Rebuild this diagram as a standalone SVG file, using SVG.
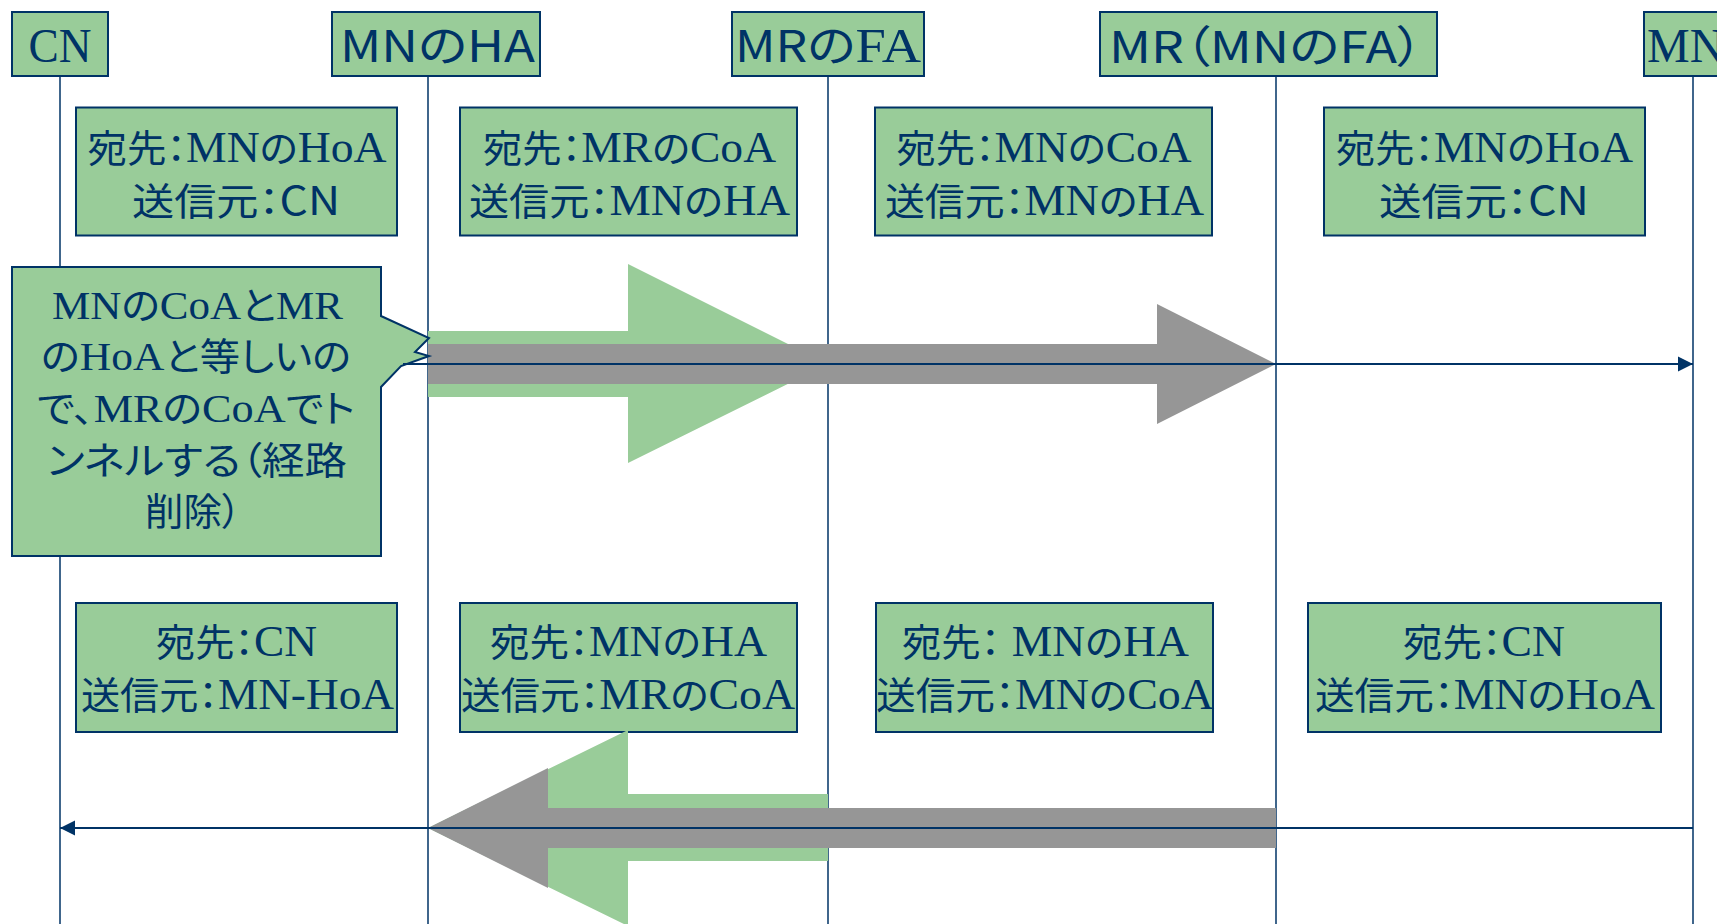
<svg xmlns="http://www.w3.org/2000/svg" width="1717" height="924" viewBox="0 0 1717 924">
<defs>
<style>
.box{fill:#99CC99;stroke:#003366;stroke-width:2}
.life{stroke:#003366;stroke-width:1.5;fill:none}
.msg{stroke:#003366;stroke-width:2;fill:none;marker-end:url(#ah)}
.ga{fill:#99CC99}
.gy{fill:#969696}
text{fill:#003366;text-anchor:middle}
.j{font-family:"Noto Sans CJK JP",sans-serif;font-feature-settings:"palt"}
.s{font-family:"Liberation Serif","Noto Sans CJK JP",serif}
.g{font-family:"Noto Sans CJK JP",sans-serif}
.m .j{font-size:38px}
.m .s{font-size:44px}
.m .g{font-size:40px}
.h .j{font-size:44px}
.h .s{font-size:48px}
.c .j{font-size:38px}
.c .s{font-size:41px}
</style>
<marker id="ah" markerUnits="userSpaceOnUse" markerWidth="16" markerHeight="16" refX="15" refY="8" orient="auto">
<path d="M0,0.5 L15,8 L0,15.5 z" fill="#003366"/>
</marker>
</defs>
<rect width="1717" height="924" fill="#ffffff"/>

<g id="lifelines">
<line class="life" x1="60" y1="76" x2="60" y2="924"/>
<line class="life" x1="428" y1="76" x2="428" y2="924"/>
<line class="life" x1="828" y1="76" x2="828" y2="924"/>
<line class="life" x1="1276" y1="76" x2="1276" y2="924"/>
<line class="life" x1="1693" y1="76" x2="1693" y2="924"/>
</g>

<g id="node-cn" class="h">
<rect class="box" x="12" y="12" width="96" height="64"/>
<text x="60" y="62" textLength="63" lengthAdjust="spacingAndGlyphs"><tspan class="s">CN</tspan></text>
</g>
<g id="node-mn-ha" class="h">
<rect class="box" x="332" y="12" width="208" height="64"/>
<text x="437.5" y="62" textLength="195" lengthAdjust="spacingAndGlyphs"><tspan class="j">MNのHA</tspan></text>
</g>
<g id="node-mr-fa" class="h">
<rect class="box" x="732" y="12" width="192" height="64"/>
<text x="828" y="62" textLength="186" lengthAdjust="spacingAndGlyphs"><tspan class="j">MRの</tspan><tspan class="s">FA</tspan></text>
</g>
<g id="node-mr" class="h">
<rect class="box" x="1100" y="12" width="337" height="64"/>
<text x="1266" y="63" textLength="314" lengthAdjust="spacingAndGlyphs"><tspan class="j">MR（MNのFA）</tspan></text>
</g>
<g id="node-mn" class="h">
<rect class="box" x="1644" y="12" width="90" height="64"/>
<text x="1647" y="62" style="text-anchor:start"><tspan class="s">MN</tspan></text>
</g>

<g id="pkt-top-1" class="m">
<rect class="box" x="76" y="107.5" width="321" height="128"/>
<text x="237" y="162" textLength="299" lengthAdjust="spacingAndGlyphs"><tspan class="j">宛先：</tspan><tspan class="s">MN</tspan><tspan class="j">の</tspan><tspan class="s">HoA</tspan></text>
<text x="236" y="215" textLength="208" lengthAdjust="spacingAndGlyphs"><tspan class="j">送信元：</tspan><tspan class="g">CN</tspan></text>
</g>
<g id="pkt-top-2" class="m">
<rect class="box" x="460" y="107.5" width="337" height="128"/>
<text x="629.5" y="162" textLength="293" lengthAdjust="spacingAndGlyphs"><tspan class="j">宛先：</tspan><tspan class="s">MR</tspan><tspan class="j">の</tspan><tspan class="s">CoA</tspan></text>
<text x="629.5" y="215" textLength="321" lengthAdjust="spacingAndGlyphs"><tspan class="j">送信元：</tspan><tspan class="s">MN</tspan><tspan class="j">の</tspan><tspan class="s">HA</tspan></text>
</g>
<g id="pkt-top-3" class="m">
<rect class="box" x="875" y="107.5" width="337" height="128"/>
<text x="1044" y="162" textLength="295" lengthAdjust="spacingAndGlyphs"><tspan class="j">宛先：</tspan><tspan class="s">MN</tspan><tspan class="j">の</tspan><tspan class="s">CoA</tspan></text>
<text x="1044.5" y="215" textLength="319" lengthAdjust="spacingAndGlyphs"><tspan class="j">送信元：</tspan><tspan class="s">MN</tspan><tspan class="j">の</tspan><tspan class="s">HA</tspan></text>
</g>
<g id="pkt-top-4" class="m">
<rect class="box" x="1324" y="107.5" width="321" height="128"/>
<text x="1484.5" y="162" textLength="297" lengthAdjust="spacingAndGlyphs"><tspan class="j">宛先：</tspan><tspan class="s">MN</tspan><tspan class="j">の</tspan><tspan class="s">HoA</tspan></text>
<text x="1484" y="215" textLength="210" lengthAdjust="spacingAndGlyphs"><tspan class="j">送信元：</tspan><tspan class="g">CN</tspan></text>
</g>

<g id="pkt-bot-1" class="m">
<rect class="box" x="76" y="603" width="321" height="129"/>
<text x="236.5" y="656" textLength="161" lengthAdjust="spacingAndGlyphs"><tspan class="j">宛先：</tspan><tspan class="s">CN</tspan></text>
<text x="237.5" y="709" textLength="313" lengthAdjust="spacingAndGlyphs"><tspan class="j">送信元：</tspan><tspan class="s">MN-HoA</tspan></text>
</g>
<g id="pkt-bot-2" class="m">
<rect class="box" x="460" y="603" width="337" height="129"/>
<text x="628.5" y="656" textLength="277" lengthAdjust="spacingAndGlyphs"><tspan class="j">宛先：</tspan><tspan class="s">MN</tspan><tspan class="j">の</tspan><tspan class="s">HA</tspan></text>
<text x="628" y="709" textLength="334" lengthAdjust="spacingAndGlyphs"><tspan class="j">送信元：</tspan><tspan class="s">MR</tspan><tspan class="j">の</tspan><tspan class="s">CoA</tspan></text>
</g>
<g id="pkt-bot-3" class="m">
<rect class="box" x="876" y="603" width="337" height="129"/>
<text x="1045.5" y="656" textLength="287" lengthAdjust="spacingAndGlyphs"><tspan class="j">宛先：</tspan><tspan class="s"> MN</tspan><tspan class="j">の</tspan><tspan class="s">HA</tspan></text>
<text x="1045" y="709" textLength="338" lengthAdjust="spacingAndGlyphs"><tspan class="j">送信元：</tspan><tspan class="s">MN</tspan><tspan class="j">の</tspan><tspan class="s">CoA</tspan></text>
</g>
<g id="pkt-bot-4" class="m">
<rect class="box" x="1308" y="603" width="353" height="129"/>
<text x="1484" y="656" textLength="162" lengthAdjust="spacingAndGlyphs"><tspan class="j">宛先：</tspan><tspan class="s">CN</tspan></text>
<text x="1485" y="709" textLength="340" lengthAdjust="spacingAndGlyphs"><tspan class="j">送信元：</tspan><tspan class="s">MN</tspan><tspan class="j">の</tspan><tspan class="s">HoA</tspan></text>
</g>

<g id="tunnel-arrows">
<polygon class="ga" points="428,331 628,331 628,264 828,364 628,463 628,397 428,397"/>
<polygon class="gy" points="428,344 1157,344 1157,304 1276,364 1157,424 1157,384 428,384"/>
<polygon class="ga" points="828,794 628,794 628,730 428,828 628,926 628,861 828,861"/>
<polygon class="gy" points="1276,808 548,808 548,768 428,828 548,888 548,848 1276,848"/>
</g>

<g id="callout">
<polygon class="box" points="12,267 381,267 381,316 429,338 415,352 429,356 401,366 381,387 381,556 12,556"/>
<g class="c">
<text x="197.5" y="319" textLength="291" lengthAdjust="spacingAndGlyphs"><tspan class="s">MN</tspan><tspan class="j">の</tspan><tspan class="s">CoA</tspan><tspan class="j">と</tspan><tspan class="s">MR</tspan></text>
<text x="196" y="370" textLength="310" lengthAdjust="spacingAndGlyphs"><tspan class="j">の</tspan><tspan class="s">HoA</tspan><tspan class="j">と等しいの</tspan></text>
<text x="196" y="422" textLength="318" lengthAdjust="spacingAndGlyphs"><tspan class="j">で、</tspan><tspan class="s">MR</tspan><tspan class="j">の</tspan><tspan class="s">CoA</tspan><tspan class="j">でト</tspan></text>
<text x="197" y="474" textLength="300" lengthAdjust="spacingAndGlyphs"><tspan class="j">ンネルする（経路</tspan></text>
<text x="193" y="525" textLength="96" lengthAdjust="spacingAndGlyphs"><tspan class="j">削除）</tspan></text>
</g>
</g>

<g id="connectors">
<line class="msg" x1="403" y1="364" x2="1693" y2="364"/>
<line class="msg" x1="1693" y1="828" x2="60" y2="828"/>
</g>
</svg>
